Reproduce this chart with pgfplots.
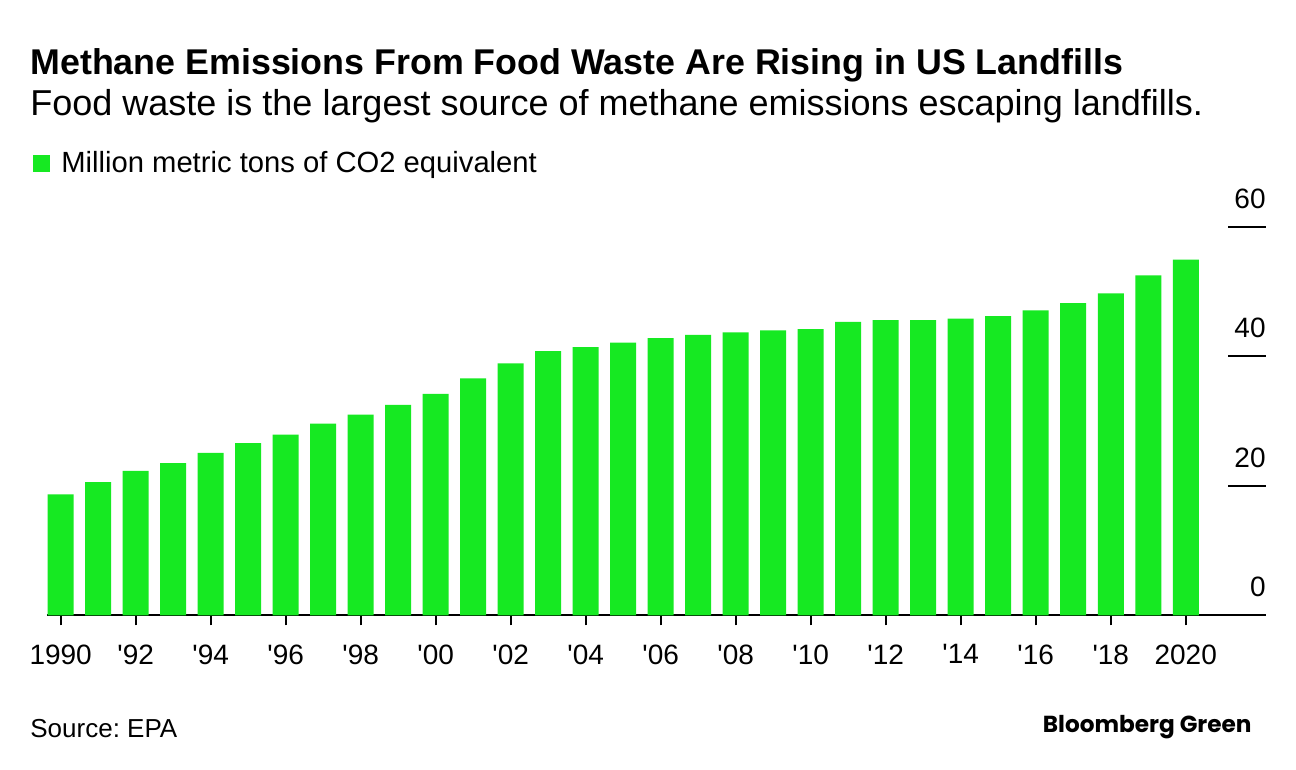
\documentclass[border=0pt]{standalone}
\usepackage{pgfplots}
\pgfplotsset{compat=1.18}
\usepackage{pgfplotstable}
\usepackage{fontspec}
\setmainfont{Liberation Sans}
\newfontfamily\bbfont{Poppins}
\definecolor{bargreen}{RGB}{22,233,34}
\frenchspacing

\pgfplotstableread{
year val
1990 18.7
1991 20.6
1992 22.3
1993 23.5
1994 25.1
1995 26.6
1996 27.9
1997 29.6
1998 31.0
1999 32.5
2000 34.2
2001 36.6
2002 38.9
2003 40.8
2004 41.4
2005 42.1
2006 42.8
2007 43.3
2008 43.7
2009 44.0
2010 44.2
2011 45.3
2012 45.6
2013 45.6
2014 45.8
2015 46.2
2016 47.1
2017 48.2
2018 49.7
2019 52.5
2020 54.9
}\emissions

\begin{document}
\begin{tikzpicture}
\useasboundingbox[fill=white] (0pt,0pt) rectangle (648pt,385pt);
% titles
\node[anchor=base west, inner sep=0pt] at (15pt,347.5pt) {\fontsize{17.9pt}{20pt}\selectfont\bfseries Methane Emissions From Food Waste Are Rising in US Landfills};
\node[anchor=base west, inner sep=0pt] at (15pt,327pt) {\fontsize{18pt}{20pt}\selectfont Food waste is the largest source of methane emissions escaping landfills.};
\node[anchor=base west, inner sep=0pt] at (15pt,16pt) {\fontsize{13pt}{15pt}\selectfont Source: EPA};
\node[anchor=base east, inner sep=0pt] at (626pt,18.5pt) {\fontsize{11.6pt}{13pt}\selectfont\bbfont\bfseries Bloomberg Green};
\begin{axis}[
  at={(23.5pt,77.25pt)}, anchor=south west,
  scale only axis, width=609.5pt, height=194.4pt,
  xmin=1989.635, xmax=2022.14, ymin=0, ymax=60,
  clip=false,
  axis x line*=bottom, axis y line*=right,
  y axis line style={draw=none},
  x axis line style={line width=1pt, black, -},
  tick align=outside, major tick length=5pt,
  xtick={1990,1992,...,2020},
  xticklabels={1990,\textquotesingle 92,\textquotesingle 94,\textquotesingle 96,\textquotesingle 98,\textquotesingle 00,\textquotesingle 02,\textquotesingle 04,\textquotesingle 06,\textquotesingle 08,\textquotesingle 10,\textquotesingle 12,\textquotesingle 14,\textquotesingle 16,\textquotesingle 18,2020},
  xtick style={line width=1pt, black},
  ytick={0,20,40,60},
  ytick style={draw=none},
  yticklabel pos=right,
  /pgf/number format/assume math mode=true,
  tick label style={font=\fontsize{14pt}{16pt}\selectfont, text=black},
  yticklabel style={anchor=south east, inner sep=0pt, xshift=-5pt, yshift=9pt},
  xticklabel style={yshift=-6pt},
  legend style={draw=none, fill=none, at={(-0.0115,1.1626)}, anchor=west, inner sep=0pt,
    font=\fontsize{14.6pt}{16pt}\selectfont},
  legend image code/.code={\fill[bargreen] (0pt,-4.25pt) rectangle (8.5pt,4.25pt);},
  legend cell align=left,
  /tikz/every odd column/.append style={column sep=3.5pt},
]
\addplot[ybar, bar width=13pt, fill=bargreen, draw=none] table[x=year, y=val] {\emissions};
\addlegendentry{Million metric tons of CO2 equivalent}
\draw[line width=1pt, black] (axis cs:2021.13,20) -- (axis cs:2022.14,20);
\draw[line width=1pt, black] (axis cs:2021.13,40) -- (axis cs:2022.14,40);
\draw[line width=1pt, black] (axis cs:2021.13,60) -- (axis cs:2022.14,60);
\end{axis}
\end{tikzpicture}
\end{document}
